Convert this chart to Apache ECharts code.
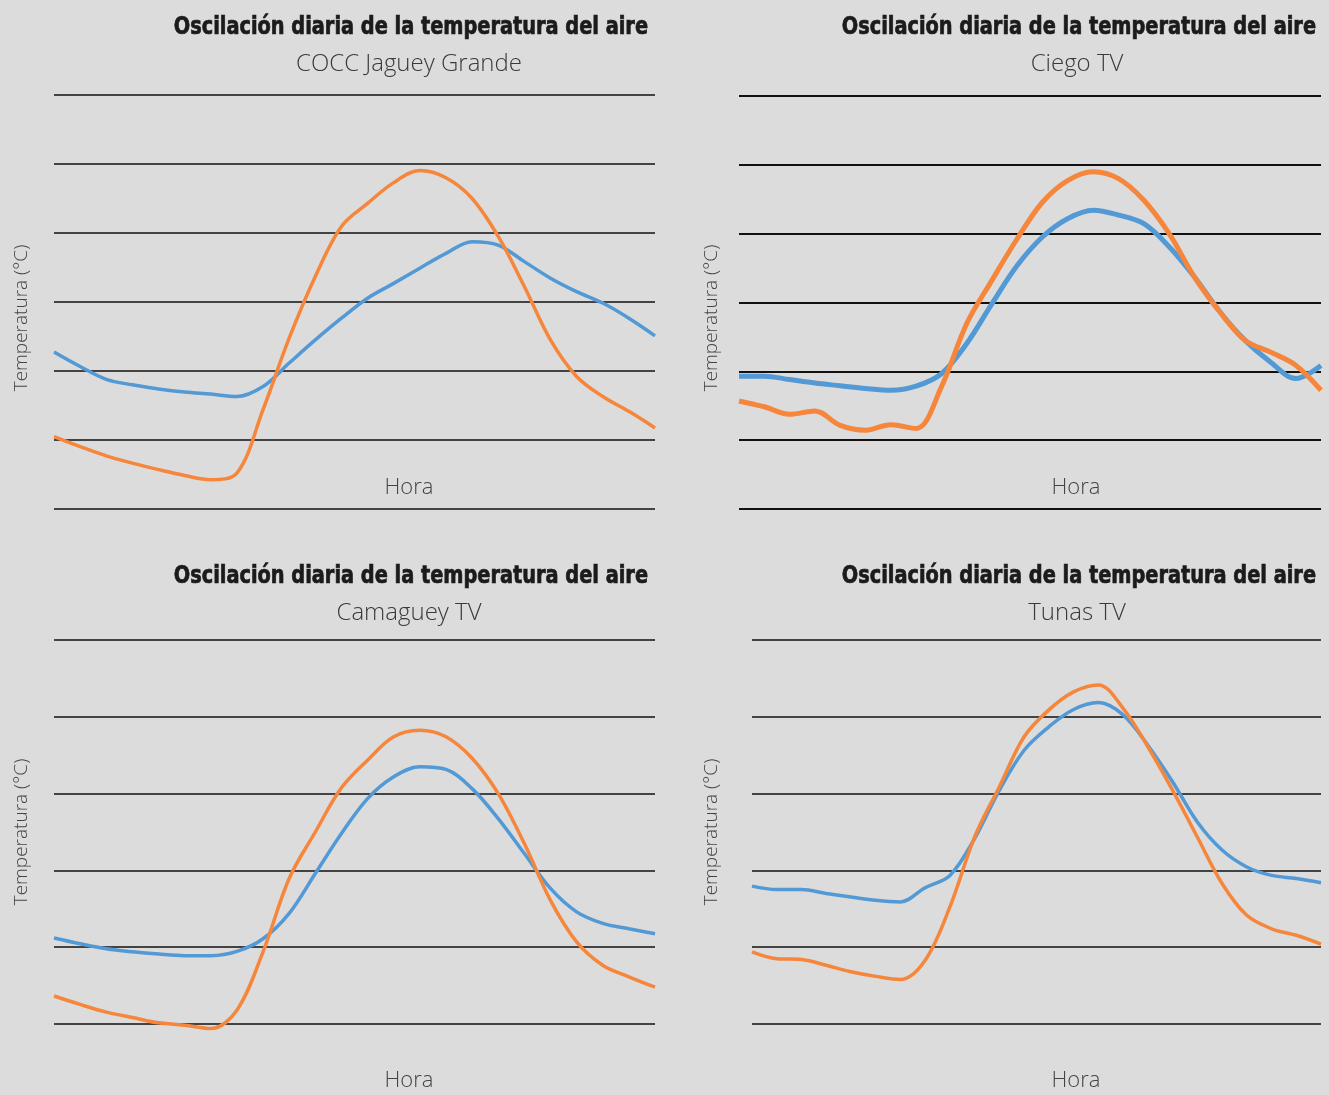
<!DOCTYPE html>
<html>
<head>
<meta charset="utf-8">
<script src="https://cdn.jsdelivr.net/npm/echarts@6/dist/echarts.min.js"></script>
<style>
html,body{margin:0;padding:0;background:#dcdcdc;}
#c{width:1329px;height:1095px;}
</style>
</head>
<body>
<div id="c"></div>
<script>
// Hours (categories)
const hours = ['1','2','3','4','5','6','7','8','9','10','11','12','13','14','15','16','17','18','19','20','21','22','23','24'];

const titleText = 'Oscilación diaria de la temperatura del aire';
const stations = ['COCC Jaguey Grande', 'Ciego TV', 'Camaguey TV', 'Tunas TV'];
const yAxisName = 'Temperatura (°C)';
const xAxisName = 'Hora';

// COCC Jaguey Grande
const jagueyBlue = [24.55,24.13,23.76,23.60,23.48,23.39,23.33,23.26,23.55,24.23,24.90,25.53,26.11,26.54,26.98,27.41,27.75,27.65,27.17,26.69,26.30,25.97,25.53,25.02];
const jagueyOrange = [22.10,21.81,21.54,21.33,21.14,20.97,20.85,21.04,22.88,24.95,26.74,28.19,28.86,29.46,29.81,29.60,29.00,27.90,26.45,24.90,23.84,23.26,22.83,22.35];

// Ciego TV
const ciegoBlue = [23.86,23.86,23.76,23.66,23.58,23.50,23.45,23.57,23.93,24.81,25.97,27.08,27.91,28.44,28.68,28.54,28.29,27.62,26.74,25.73,24.90,24.27,23.79,24.17];
const ciegoOrange = [23.14,22.97,22.75,22.85,22.43,22.29,22.45,22.34,23.55,25.39,26.65,27.86,28.92,29.55,29.80,29.60,28.97,28.00,26.74,25.73,24.90,24.56,24.18,23.45];

// Camaguey TV
const camagueyBlue = [22.24,22.09,21.96,21.88,21.82,21.78,21.78,21.89,22.22,22.88,23.92,24.96,25.87,26.44,26.70,26.63,26.13,25.35,24.44,23.53,22.92,22.62,22.48,22.35];
const camagueyOrange = [20.73,20.51,20.31,20.17,20.03,19.97,19.88,20.36,21.88,23.79,25.00,26.15,26.87,27.48,27.65,27.48,26.92,26.00,24.70,23.22,22.14,21.53,21.23,20.96];

// Tunas TV
const tunasBlue = [23.59,23.50,23.50,23.40,23.31,23.22,23.18,23.55,23.87,24.83,26.09,27.13,27.74,28.19,28.37,28.05,27.26,26.31,25.26,24.53,24.09,23.87,23.79,23.68];
const tunasOrange = [21.88,21.70,21.68,21.53,21.36,21.24,21.16,21.66,23.05,24.87,26.18,27.48,28.18,28.65,28.83,28.22,27.22,26.09,24.87,23.66,22.83,22.48,22.31,22.08];

const blueColor = '#5299d5';
const orangeColor = '#f5863b';

const chart = echarts.init(document.getElementById('c'), null, {renderer:'canvas'});

// top panels: lines every 2 degrees from 20 to 32 (bottom line is the minimum)
// bottom panels: axis from 19 to 30, interval 1, only even values drawn
const panels = [
  {grid:{left:54, width:601, top:95, height:414}, y:[20,32], step:2, blue:jagueyBlue, orange:jagueyOrange, lw:3.5, gw:1.5},
  {grid:{left:739, width:582, top:96, height:413}, y:[20,32], step:2, blue:ciegoBlue, orange:ciegoOrange, lw:5, gw:2},
  {grid:{left:54, width:601, top:640, height:422.4}, y:[19,30], step:1, blue:camagueyBlue, orange:camagueyOrange, lw:3.5, gw:1.5},
  {grid:{left:752, width:569, top:640, height:422.4}, y:[19,30], step:1, blue:tunasBlue, orange:tunasOrange, lw:3.5, gw:1.5}
];

const grids = [], xAxes = [], yAxes = [], series = [];
panels.forEach((p, i) => {
  grids.push(Object.assign({containLabel:false}, p.grid));
  xAxes.push({type:'category', gridIndex:i, data:hours, boundaryGap:false,
    axisLine:{show:false}, axisTick:{show:false}, axisLabel:{show:false}, splitLine:{show:false}});
  const lineColor = p.step === 1 ? ['rgba(0,0,0,0)', '#111'] : '#111';
  yAxes.push({type:'value', gridIndex:i, min:p.y[0], max:p.y[1], interval:p.step,
    axisLine:{show:false}, axisTick:{show:false}, axisLabel:{show:false},
    splitLine:{show:true, lineStyle:{color:lineColor, width:p.gw}}});
  series.push({type:'line', xAxisIndex:i, yAxisIndex:i, data:p.blue, smooth:0.35, symbol:'none',
    lineStyle:{color:blueColor, width:p.lw}, z:3});
  series.push({type:'line', xAxisIndex:i, yAxisIndex:i, data:p.orange, smooth:0.35, symbol:'none',
    lineStyle:{color:orangeColor, width:p.lw}, z:4});
});

const titleFont = 'bold 25px "DejaVu Sans Condensed", "Liberation Sans", sans-serif';
const subFont = '300 24px "Open Sans", sans-serif';
const labelFont = '300 22px "Open Sans", sans-serif';
const yFont = '300 19px "Open Sans", sans-serif';

const textPos = [
  {tx:648, ty:27, sx:409, sy:64, hx:409, hy:488, yx:22, yy:318},
  {tx:1316, ty:27, sx:1077, sy:64, hx:1076, hy:488, yx:712, yy:318},
  {tx:648, ty:576, sx:409, sy:613, hx:409, hy:1081, yx:22, yy:832},
  {tx:1316, ty:576, sx:1077, sy:613, hx:1076, hy:1081, yx:712, yy:832}
];

const graphics = [];
textPos.forEach((t, i) => {
  graphics.push({type:'text', x:t.tx, y:t.ty, scaleX:0.86, style:{text:titleText, font:titleFont, fill:'#1b1b1b', stroke:'#1b1b1b', lineWidth:0.7, textAlign:'right', textVerticalAlign:'middle'}});
  graphics.push({type:'text', x:t.sx, y:t.sy, style:{text:stations[i], font:subFont, fill:'#3a3a3a', textAlign:'center', textVerticalAlign:'middle'}});
  graphics.push({type:'text', x:t.hx, y:t.hy, style:{text:xAxisName, font:labelFont, fill:'#444', textAlign:'center', textVerticalAlign:'middle'}});
  graphics.push({type:'text', x:t.yx, y:t.yy, rotation:Math.PI/2, style:{text:yAxisName, font:yFont, fill:'#444', textAlign:'center', textVerticalAlign:'middle'}});
});

chart.setOption({
  backgroundColor:'#dcdcdc',
  animation:false,
  grid:grids,
  xAxis:xAxes,
  yAxis:yAxes,
  series:series,
  graphic:graphics
});
</script>
</body>
</html>
